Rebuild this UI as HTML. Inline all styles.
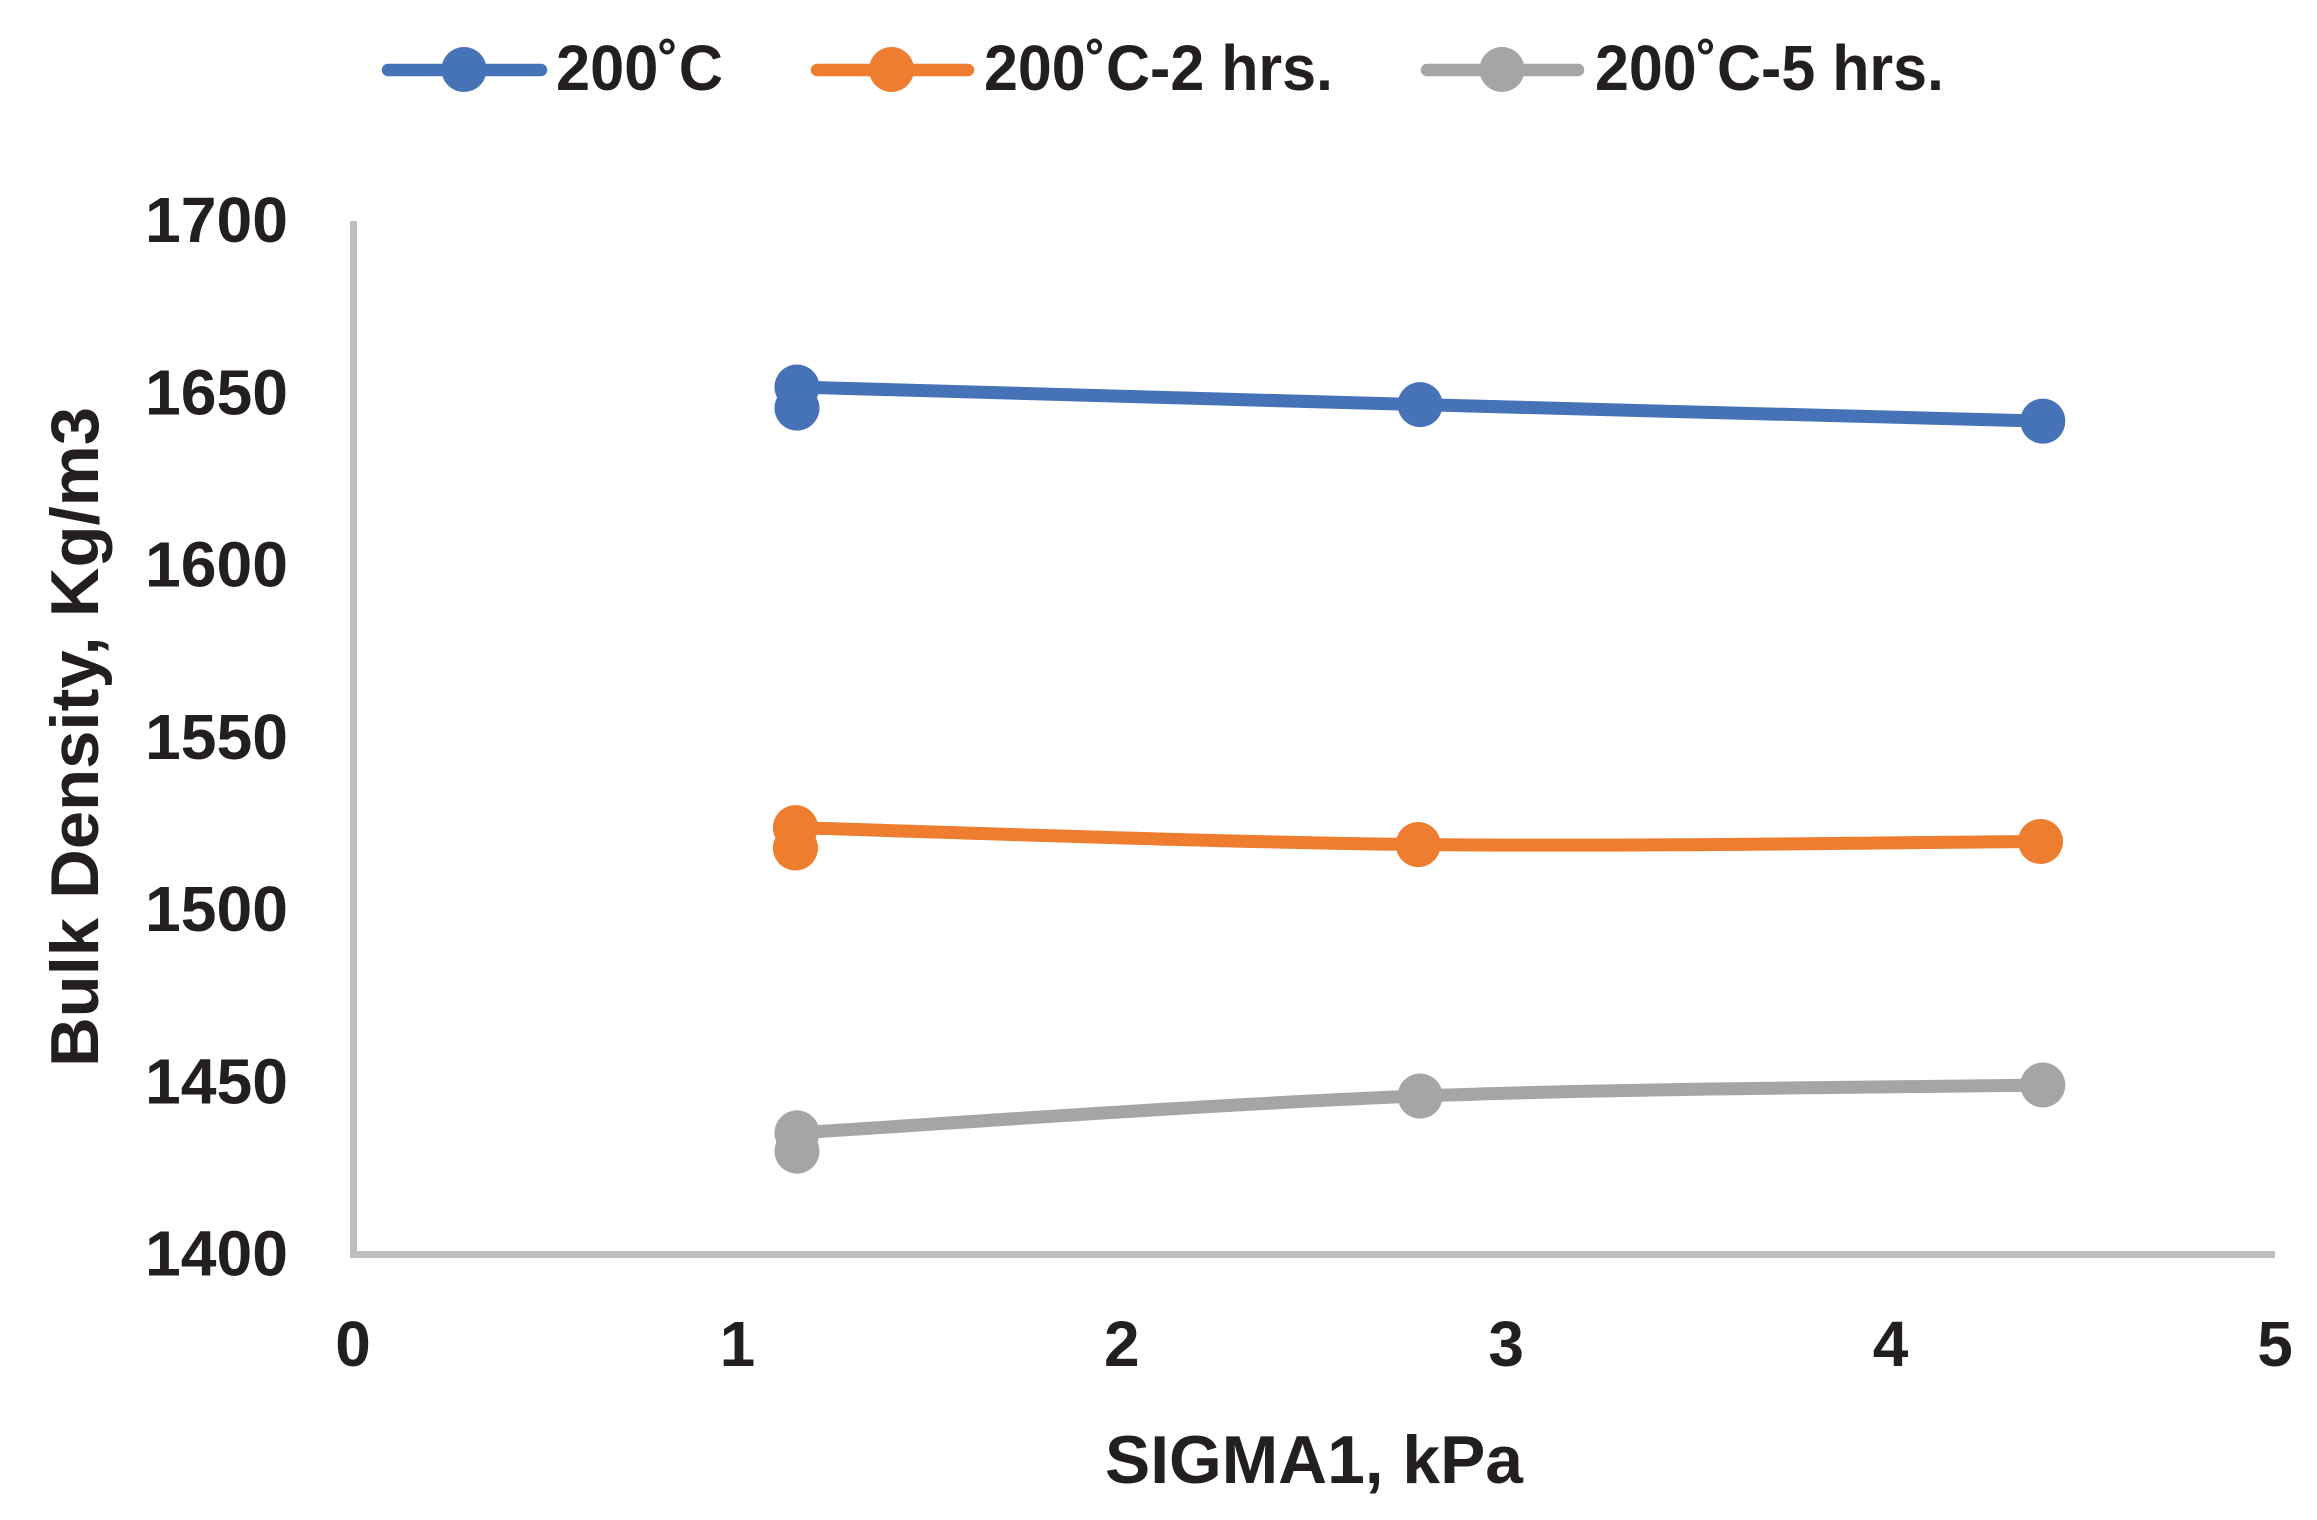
<!DOCTYPE html>
<html lang="en">
<head>
<meta charset="utf-8">
<title>Bulk Density vs SIGMA1</title>
<style>
html,body{margin:0;padding:0;background:#fff;}
svg{display:block;}
text{font-family:"Liberation Sans",sans-serif;font-weight:bold;fill:#231f20;}
</style>
</head>
<body>
<svg id="chart" xmlns="http://www.w3.org/2000/svg" width="2317" height="1520" viewBox="0 0 2317 1520">
  <rect x="0" y="0" width="2317" height="1520" fill="#ffffff"/>
  <g id="legend">
    <g>
      <line x1="388" y1="70" x2="541" y2="70" stroke="#4673b8" stroke-width="12.5" stroke-linecap="round"/>
      <circle cx="464" cy="69.5" r="22.5" fill="#4673b8"/>
      <text x="556" y="90" font-size="64" textLength="167" lengthAdjust="spacingAndGlyphs">200˚C</text>
    </g>
    <g>
      <line x1="817" y1="70" x2="968" y2="70" stroke="#ee7d30" stroke-width="12.5" stroke-linecap="round"/>
      <circle cx="891.5" cy="69.5" r="22.5" fill="#ee7d30"/>
      <text x="984" y="90" font-size="64" textLength="349" lengthAdjust="spacingAndGlyphs">200˚C-2 hrs.</text>
    </g>
    <g>
      <line x1="1427" y1="70" x2="1578" y2="70" stroke="#a5a5a4" stroke-width="12.5" stroke-linecap="round"/>
      <circle cx="1502" cy="69.5" r="22.5" fill="#a5a5a4"/>
      <text x="1595" y="90" font-size="64" textLength="349" lengthAdjust="spacingAndGlyphs">200˚C-5 hrs.</text>
    </g>
  </g>
  <g id="axes"></g>
  <g id="series"></g>
  <text x="1105" y="1483" font-size="68" textLength="418" lengthAdjust="spacingAndGlyphs">SIGMA1, kPa</text>
  <text transform="translate(98 1067) rotate(-90)" x="0" y="0" font-size="68" textLength="660" lengthAdjust="spacingAndGlyphs">Bulk Density, Kg/m3</text>
</svg>
<script>
const xTicks = [0, 1, 2, 3, 4, 5];
const yTicks = [1400, 1450, 1500, 1550, 1600, 1650, 1700];

const blueName = '200˚C';
const blueX = [1.155, 1.155, 2.776, 4.396];
const blueY = [1645.7, 1651.8, 1646.7, 1641.9];

const orangeName = '200˚C-2 hrs.';
const orangeX = [1.151, 1.151, 2.771, 4.390];
const orangeY = [1518.0, 1523.9, 1519.0, 1519.9];

const grayName = '200˚C-5 hrs.';
const grayX = [1.155, 1.155, 2.776, 4.396];
const grayY = [1430.0, 1435.3, 1446.0, 1449.2];

const SVG_NS = 'http://www.w3.org/2000/svg';
const xScale = function (v) { return 353 + (v - 0) * (2275 - 353) / 5; };
const yScale = function (v) { return 1254.5 - (v - 1400) * (1254.5 - 221) / 300; };

const axesGroup = document.getElementById('axes');
const seriesGroup = document.getElementById('series');

const yAxisLine = document.createElementNS(SVG_NS, 'line');


yAxisLine.setAttribute('x1', 353.5);
yAxisLine.setAttribute('x2', 353.5);
yAxisLine.setAttribute('y1', yScale(1700));
yAxisLine.setAttribute('y2', yScale(1400) + 3.5);
yAxisLine.setAttribute('stroke', '#bfbebf');
yAxisLine.setAttribute('stroke-width', 7);
axesGroup.appendChild(yAxisLine);

const xAxisLine = document.createElementNS(SVG_NS, 'line');


xAxisLine.setAttribute('x1', 350);
xAxisLine.setAttribute('x2', xScale(5));
xAxisLine.setAttribute('y1', yScale(1400));
xAxisLine.setAttribute('y2', yScale(1400));
xAxisLine.setAttribute('stroke', '#bfbebf');
xAxisLine.setAttribute('stroke-width', 7);
axesGroup.appendChild(xAxisLine);

yTicks.forEach(function (t) {
  const label = document.createElementNS(SVG_NS, 'text');
  
  
  label.setAttribute('x', 145);
  label.setAttribute('y', yScale(t) + 21);
  label.setAttribute('font-size', 64);
  label.setAttribute('textLength', 143);
  label.setAttribute('lengthAdjust', 'spacingAndGlyphs');
  label.textContent = String(t);
  axesGroup.appendChild(label);
});

xTicks.forEach(function (t) {
  const label = document.createElementNS(SVG_NS, 'text');
  
  
  label.setAttribute('x', xScale(t));
  label.setAttribute('y', 1366);
  label.setAttribute('font-size', 64);
  label.setAttribute('text-anchor', 'middle');
  label.textContent = String(t);
  axesGroup.appendChild(label);
});

function smoothPath(pts) {
  let d = 'M' + pts[0][0] + ' ' + pts[0][1] + ' L' + pts[1][0] + ' ' + pts[1][1];
  for (let i = 1; i < pts.length - 1; i++) {
    const p0 = i > 1 ? pts[i - 1] : pts[i];
    const p1 = pts[i];
    const p2 = pts[i + 1];
    const p3 = i + 2 < pts.length ? pts[i + 2] : p2;
    const c1x = p1[0] + (p2[0] - p0[0]) / 6;
    const c1y = p1[1] + (p2[1] - p0[1]) / 6;
    const c2x = p2[0] - (p3[0] - p1[0]) / 6;
    const c2y = p2[1] - (p3[1] - p1[1]) / 6;
    d += ' C' + c1x + ' ' + c1y + ' ' + c2x + ' ' + c2y + ' ' + p2[0] + ' ' + p2[1];
  }
  return d;
}

function drawSeries(slug, xs, ys, color) {
  const pts = xs.map(function (x, i) { return [xScale(x), yScale(ys[i])]; });
  const line = document.createElementNS(SVG_NS, 'path');
  
  
  line.setAttribute('d', smoothPath(pts));
  line.setAttribute('fill', 'none');
  line.setAttribute('stroke', color);
  line.setAttribute('stroke-width', 13);
  line.setAttribute('stroke-linejoin', 'round');
  seriesGroup.appendChild(line);
  pts.forEach(function (p) {
    const dot = document.createElementNS(SVG_NS, 'circle');
    
    
    dot.setAttribute('cx', p[0]);
    dot.setAttribute('cy', p[1]);
    dot.setAttribute('r', 22.5);
    dot.setAttribute('fill', color);
    seriesGroup.appendChild(dot);
  });
}

drawSeries('200c', blueX, blueY, '#4673b8');
drawSeries('200c-2-hrs', orangeX, orangeY, '#ee7d30');
drawSeries('200c-5-hrs', grayX, grayY, '#a5a5a4');
</script>
</body>
</html>
